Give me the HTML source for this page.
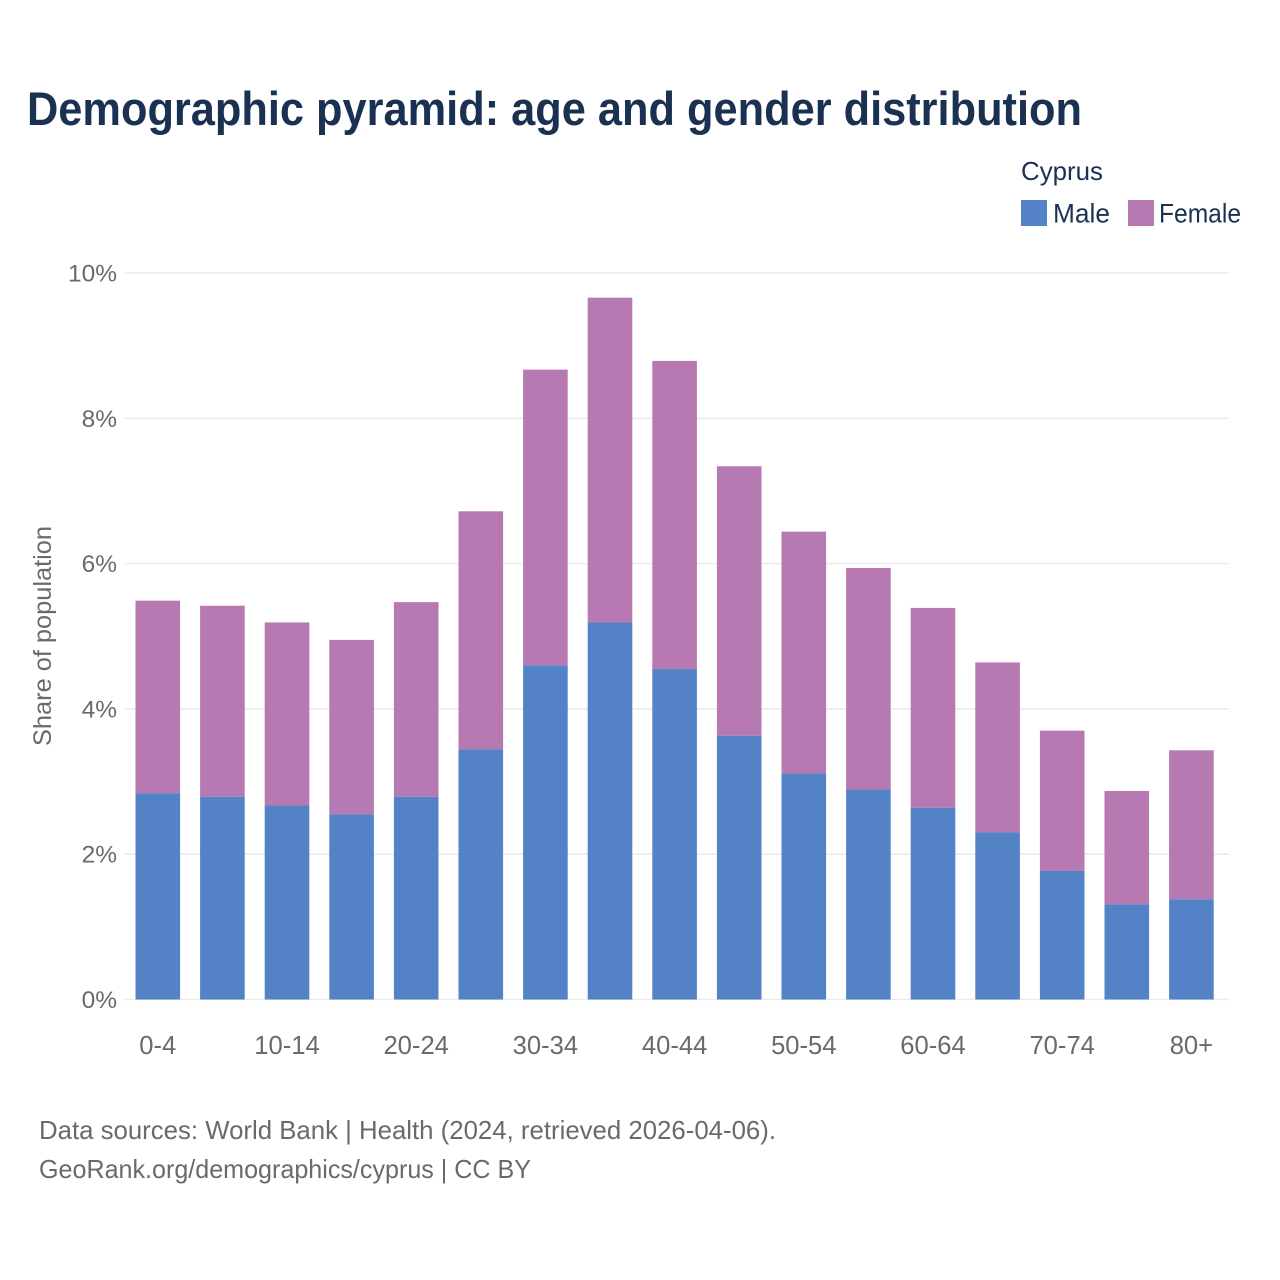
<!DOCTYPE html>
<html lang="en">
<head>
<meta charset="utf-8">
<title>Demographic pyramid: age and gender distribution</title>
<style>
html,body{margin:0;padding:0;background:#fff;width:1280px;height:1280px;overflow:hidden}
svg{display:block}
text{font-family:"Liberation Sans",Arial,sans-serif}
</style>
</head>
<body>
<svg id="chart" xmlns="http://www.w3.org/2000/svg" width="1280" height="1280" viewBox="0 0 1280 1280">
  <rect x="0" y="0" width="1280" height="1280" fill="#ffffff"/>
  <text x="27" y="125" font-size="47" font-weight="700" fill="#1a3152" textLength="1055" lengthAdjust="spacingAndGlyphs">Demographic pyramid: age and gender distribution</text>
  <text x="1021" y="180" font-size="26" fill="#1a3152" textLength="82" lengthAdjust="spacingAndGlyphs">Cyprus</text>
  <rect x="1021" y="200" width="26" height="26" fill="#5482c6"/>
  <text x="1053" y="222.5" font-size="27" fill="#1a3152" textLength="57" lengthAdjust="spacingAndGlyphs">Male</text>
  <rect x="1128" y="200" width="26" height="26" fill="#b679b2"/>
  <text x="1159" y="222.5" font-size="27" fill="#1a3152" textLength="82" lengthAdjust="spacingAndGlyphs">Female</text>
  <g id="grid"></g>
  <g id="yticks"></g>
  <g id="bars"></g>
  <g id="xticks"></g>
  <text transform="translate(51,636) rotate(-90)" text-anchor="middle" font-size="25" fill="#6a6a6a" textLength="220" lengthAdjust="spacingAndGlyphs">Share of population</text>
  <text x="39" y="1139" font-size="26" fill="#6a6a6a" textLength="737" lengthAdjust="spacingAndGlyphs">Data sources: World Bank | Health (2024, retrieved 2026-04-06).</text>
  <text x="39" y="1178" font-size="26" fill="#6a6a6a" textLength="492" lengthAdjust="spacingAndGlyphs">GeoRank.org/demographics/cyprus | CC BY</text>
</svg>
<script>
const categories = ["0-4","5-9","10-14","15-19","20-24","25-29","30-34","35-39","40-44","45-49","50-54","55-59","60-64","65-69","70-74","75-79","80+"];
const maleValues = [2.84,2.79,2.67,2.55,2.79,3.44,4.60,5.19,4.55,3.63,3.11,2.89,2.64,2.30,1.77,1.31,1.38];
const femaleValues = [2.65,2.63,2.52,2.40,2.68,3.28,4.07,4.47,4.24,3.71,3.33,3.05,2.75,2.34,1.93,1.56,2.05];
const yTickValues = [0,2,4,6,8,10];
const xTickLabels = ["0-4","10-14","20-24","30-34","40-44","50-54","60-64","70-74","80+"];

const NS = "http://www.w3.org/2000/svg";
function yScale(v){ return 999.5 - v * 72.65; }
function xCenter(i){ return 157.8 + i * 64.6; }
const barWidth = 44.6;

const grid = document.getElementById("grid");
const yticks = document.getElementById("yticks");
yTickValues.forEach(function(v){
  const line = document.createElementNS(NS, "line");
  
  
  line.setAttribute("x1", 125);
  line.setAttribute("x2", 1229);
  line.setAttribute("y1", yScale(v));
  line.setAttribute("y2", yScale(v));
  line.setAttribute("stroke", "#ebebeb");
  line.setAttribute("stroke-width", 1.6);
  grid.appendChild(line);

  const t = document.createElementNS(NS, "text");
  
  
  t.setAttribute("x", 117);
  t.setAttribute("y", yScale(v) + 8.5);
  t.setAttribute("text-anchor", "end");
  t.setAttribute("font-size", 24.5);
  t.setAttribute("fill", "#6a6a6a");
  t.textContent = v + "%";
  yticks.appendChild(t);
});

const bars = document.getElementById("bars");
function addBar(x, low, high, color, name){
  const r = document.createElementNS(NS, "rect");
  
  
  r.setAttribute("x", x - barWidth / 2);
  r.setAttribute("y", yScale(high));
  r.setAttribute("width", barWidth);
  r.setAttribute("height", yScale(low) - yScale(high));
  r.setAttribute("fill", color);
  bars.appendChild(r);
}
categories.forEach(function(c, i){
  const x = xCenter(i);
  addBar(x, maleValues[i], maleValues[i] + femaleValues[i], "#b679b2", "bar-female");
  addBar(x, 0, maleValues[i], "#5482c6", "bar-male");
});

const xticks = document.getElementById("xticks");
xTickLabels.forEach(function(label){
  const t = document.createElementNS(NS, "text");
  
  
  t.setAttribute("x", xCenter(categories.indexOf(label)));
  t.setAttribute("y", 1054);
  t.setAttribute("text-anchor", "middle");
  t.setAttribute("font-size", 25.6);
  t.setAttribute("fill", "#6a6a6a");
  t.textContent = label;
  xticks.appendChild(t);
});
</script>
</body>
</html>
